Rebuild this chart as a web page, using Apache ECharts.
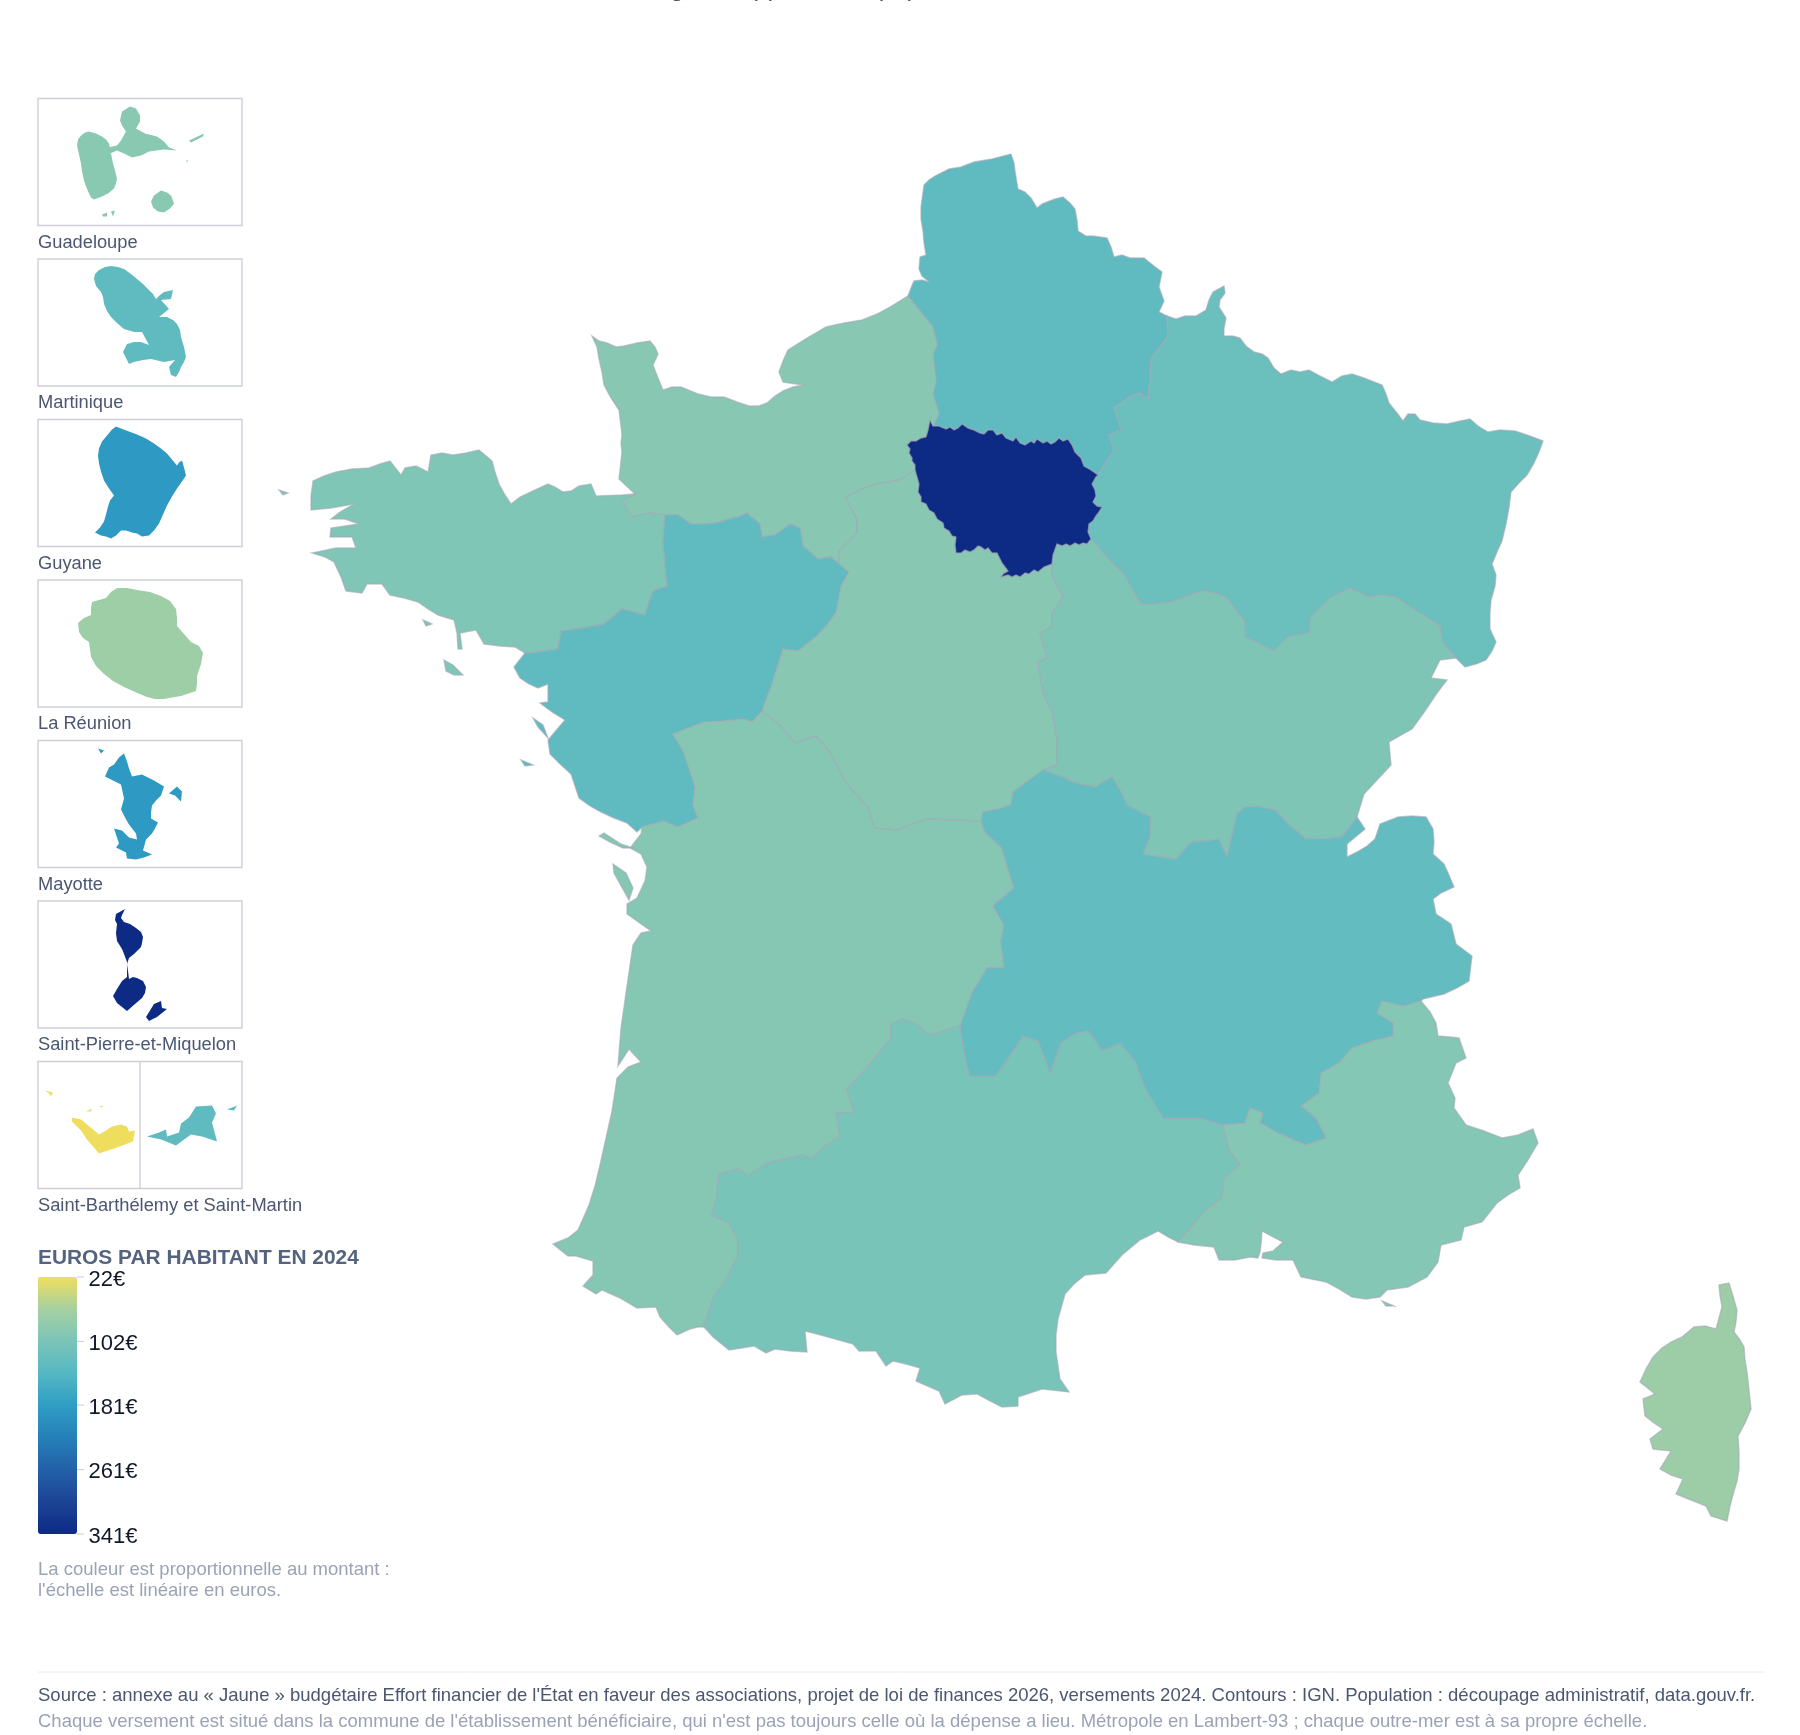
<!DOCTYPE html>
<html>
<head>
<meta charset="utf-8">
<title>Euros par habitant en 2024</title>
<script src="https://cdn.jsdelivr.net/npm/echarts@6/dist/echarts.min.js"></script>
<style>
html, body { margin: 0; padding: 0; background: #fff; }
#chart { width: 1800px; height: 1735px; }
</style>
</head>
<body>
<div id="chart"></div>
<script>
var regionNames = ['Hauts-de-France', 'Normandie', 'Île-de-France', 'Grand Est', 'Bretagne', 'Pays de la Loire', 'Centre-Val de Loire', 'Bourgogne-Franche-Comté', 'Nouvelle-Aquitaine', 'Occitanie', 'Auvergne-Rhône-Alpes', "Provence-Alpes-Côte d'Azur", 'Corse'];
var regionValues = [130, 89, 341, 118, 96, 130, 89, 97, 91, 103, 127, 93, 71];
var insetNames = ['Guadeloupe', 'Martinique', 'Guyane', 'La Réunion', 'Mayotte', 'Saint-Pierre-et-Miquelon', 'Saint-Barthélemy', 'Saint-Martin'];
var insetValues = [88, 130, 186, 69, 186, 341, 22, 130];
var insetLabels = ['Guadeloupe', 'Martinique', 'Guyane', 'La Réunion', 'Mayotte', 'Saint-Pierre-et-Miquelon', 'Saint-Barthélemy et Saint-Martin'];
var scaleTicks = [22, 102, 181, 261, 341];
var scaleColors = ['#EFDE5D', '#A6D0A2', '#7AC4B9', '#55B8C4', '#2F9DC4', '#2580B8', '#2360A8', '#1C4496', '#0D2A85'];

// contours de la metropole, par troncons communs
var coastHdf = [[908,296],[911,288],[914,281],[922,280],[929,282],[922,276],[919,269],[920,257],[926,255],[924,243],[923,231],[921,219],[921,207],[924,185],[929,180],[935,176],[949,169],[961,167],[974,162],[992,159],[1011,154],[1014,163],[1015,171],[1018,189],[1025,192],[1031,198],[1037,208],[1042,204],[1047,202],[1055,199],[1063,197],[1070,203],[1075,209],[1077,220],[1078,231],[1086,236],[1093,236],[1107,238],[1111,247],[1114,257],[1122,255],[1130,258],[1144,258],[1154,266],[1162,272],[1159,287],[1164,301],[1159,312],[1167,316]];
var hdfGrandEst = [[1167,316],[1168,336],[1160,347],[1151,359],[1150,380],[1148,399],[1140,393],[1132,395],[1114,408],[1118,420],[1121,430],[1109,435],[1114,450],[1106,462],[1098,475]];
var idfNordEst = [[1098,475],[1091,470],[1084,466],[1081,458],[1075,452],[1072,445],[1068,439],[1063,441],[1059,438],[1055,442],[1051,444],[1047,441],[1043,443],[1037,439],[1034,443],[1031,441],[1025,445],[1020,443],[1016,437],[1013,441],[1006,438],[1002,433],[997,435],[993,430],[988,430],[984,434],[980,433],[974,430],[968,428],[962,424],[958,428],[954,430],[950,427],[946,429],[939,426],[933,426]];
var hdfNormandie = [[908,296],[920,311],[933,327],[937,345],[933,354],[936,381],[933,394],[939,414],[933,426]];
var idfOuest = [[933,426],[930,420],[928,430],[926,437],[921,438],[916,441],[911,441],[907,445],[910,449],[909,453],[912,458],[912,461],[915,465],[915,470]];
var idfSudOuest = [[915,470],[917,477],[919,484],[918,492],[921,497],[921,502],[926,504],[929,510],[934,513],[937,519],[943,523],[944,528],[949,531],[952,536],[956,537],[955,545],[956,553],[961,553],[965,550],[970,552],[974,550],[978,546],[981,547],[985,550],[988,548],[992,553],[997,553],[1000,559],[1002,563],[1008,571],[1003,574],[1001,577],[1008,575],[1012,577],[1016,575],[1020,577],[1025,573],[1029,574],[1034,570],[1038,572],[1044,567],[1052,564]];
var idfSudEst = [[1052,564],[1053,555],[1057,544],[1062,546],[1066,544],[1070,546],[1075,543],[1079,545],[1083,543],[1087,544],[1091,539]];
var idfEst = [[1091,539],[1088,532],[1089,524],[1093,521],[1096,516],[1099,512],[1102,507],[1097,506],[1093,502],[1096,496],[1095,490],[1092,484],[1096,477],[1098,475]];
var normCentre = [[915,470],[900,480],[877,484],[862,489],[846,497],[851,508],[857,519],[857,533],[848,542],[839,551],[839,564]];
var normPdl = [[839,564],[831,557],[818,559],[810,552],[803,546],[800,528],[790,524],[775,535],[762,537],[760,524],[747,513],[738,517],[729,519],[716,523],[704,524],[691,524],[678,515],[665,515]];
var normBret = [[665,515],[650,513],[632,517],[622,501],[635,494]];
var coastNormandie = [[635,494],[619,479],[622,452],[621,443],[622,435],[619,410],[611,398],[604,385],[602,372],[599,359],[597,347],[592,336],[599,341],[607,343],[616,347],[624,346],[637,343],[650,341],[655,347],[658,354],[653,365],[658,378],[663,390],[672,387],[681,387],[698,394],[711,397],[724,397],[737,402],[749,406],[759,406],[767,403],[775,396],[783,391],[793,387],[803,385],[783,382],[779,372],[783,361],[788,350],[807,338],[826,327],[844,323],[862,320],[877,314],[890,307],[908,296]];
var coastBretagne = [[635,494],[622,495],[596,496],[591,484],[579,486],[571,491],[563,492],[555,487],[548,484],[535,490],[520,497],[511,504],[505,495],[499,484],[495,472],[492,461],[485,455],[479,450],[466,453],[453,455],[442,453],[431,455],[428,472],[416,466],[405,468],[401,475],[390,461],[380,464],[369,468],[352,469],[336,472],[324,476],[313,481],[311,496],[311,510],[331,508],[354,504],[340,512],[331,519],[345,519],[359,524],[345,526],[331,528],[330,537],[352,537],[356,548],[336,548],[322,551],[312,553],[325,557],[334,562],[341,577],[346,591],[362,593],[367,584],[382,584],[390,595],[404,598],[418,602],[428,609],[438,615],[454,620],[457,633],[458,649],[462,649],[460,633],[476,630],[484,644],[500,646],[515,647],[525,653]];
var bretPdl = [[525,653],[530,653],[558,649],[561,631],[582,628],[604,624],[622,609],[645,615],[649,602],[653,591],[667,586],[665,565],[663,542],[665,515]];
var coastPdl = [[525,653],[514,667],[520,678],[529,684],[538,688],[548,684],[548,702],[540,703],[552,712],[565,720],[548,740],[550,754],[560,764],[571,774],[575,786],[579,798],[590,806],[601,812],[614,818],[627,823],[637,832],[642,827]];
var pdlNa = [[642,827],[663,821],[678,827],[698,818],[693,805],[695,787],[688,765],[683,751],[673,734],[704,722],[724,721],[744,719],[752,722],[762,711]];
var pdlCentre = [[762,711],[772,684],[783,649],[798,651],[818,635],[827,625],[836,613],[841,586],[849,572],[839,564]];
var centreNa = [[762,711],[780,725],[795,743],[816,736],[829,751],[838,767],[846,783],[858,796],[869,809],[874,828],[897,830],[912,824],[928,819],[955,820],[981,821]];
var centreAra = [[981,821],[983,812],[998,809],[1011,805],[1013,792],[1028,781],[1043,770]];
var centreBfc = [[1052,564],[1052,575],[1063,597],[1052,613],[1052,627],[1040,633],[1047,658],[1038,662],[1043,693],[1052,711],[1057,738],[1057,765],[1043,770]];
var geBfc = [[1091,539],[1111,562],[1123,573],[1132,589],[1141,604],[1156,604],[1171,602],[1187,596],[1203,591],[1215,593],[1226,597],[1236,610],[1245,622],[1245,637],[1260,644],[1274,651],[1288,637],[1309,633],[1311,617],[1321,607],[1332,597],[1350,588],[1369,597],[1382,595],[1396,597],[1418,612],[1440,626],[1442,642],[1456,658]];
var coastGrandEst = [[1167,316],[1176,319],[1185,316],[1196,316],[1206,310],[1209,300],[1213,292],[1224,286],[1225,293],[1220,300],[1219,307],[1226,318],[1224,328],[1224,336],[1233,336],[1240,338],[1246,346],[1254,352],[1262,354],[1268,358],[1274,368],[1281,374],[1291,370],[1300,372],[1309,370],[1320,376],[1332,382],[1342,376],[1352,374],[1364,378],[1382,385],[1386,394],[1389,403],[1397,413],[1403,421],[1408,414],[1415,414],[1420,420],[1433,423],[1447,424],[1460,421],[1470,419],[1478,426],[1488,432],[1500,430],[1515,431],[1530,436],[1543,441],[1539,452],[1534,463],[1527,475],[1519,483],[1511,492],[1509,508],[1506,524],[1502,541],[1497,552],[1492,564],[1496,575],[1495,586],[1491,600],[1490,613],[1490,629],[1496,642],[1492,651],[1486,660],[1476,664],[1465,667],[1456,658]];
var swissBfc = [[1456,658],[1440,660],[1431,678],[1447,680],[1437,693],[1425,711],[1412,729],[1389,742],[1391,765],[1378,779],[1364,794],[1357,817]];
var araBfc = [[1357,817],[1342,837],[1326,839],[1306,839],[1288,824],[1275,810],[1260,807],[1245,807],[1237,814],[1227,857],[1219,839],[1205,841],[1191,842],[1176,859],[1160,857],[1143,854],[1150,837],[1150,817],[1127,805],[1120,790],[1112,777],[1095,787],[1075,783],[1060,776],[1043,770]];
var naAra = [[981,821],[985,832],[1002,848],[1008,869],[1014,888],[993,906],[1004,925],[1001,941],[1004,968],[987,968],[972,993],[966,1010],[960,1026]];
var naOcc = [[960,1026],[930,1035],[916,1024],[903,1019],[891,1024],[891,1039],[878,1054],[865,1070],[847,1089],[854,1113],[836,1113],[840,1136],[824,1147],[811,1159],[803,1155],[785,1159],[767,1163],[748,1176],[738,1169],[719,1174],[717,1194],[712,1215],[729,1223],[738,1240],[738,1256],[725,1281],[713,1298],[704,1327]];
var coastNa = [[704,1327],[698,1327],[690,1329],[677,1335],[668,1326],[660,1317],[656,1307],[637,1308],[620,1298],[602,1290],[596,1294],[583,1286],[593,1275],[593,1261],[576,1256],[568,1256],[553,1244],[568,1238],[578,1230],[589,1205],[595,1186],[600,1165],[606,1138],[612,1111],[617,1078],[628,1067],[641,1062],[629,1049],[618,1066],[621,1028],[627,986],[633,945],[641,933],[651,931],[627,914],[627,904],[637,898],[645,881],[647,867],[641,854],[630,848],[641,834],[642,827]];
var coastOcc = [[704,1327],[713,1337],[729,1350],[742,1348],[754,1346],[766,1353],[775,1349],[790,1351],[807,1352],[805,1331],[817,1334],[828,1337],[853,1344],[859,1351],[876,1351],[886,1366],[893,1361],[906,1364],[920,1368],[916,1381],[939,1391],[945,1404],[962,1395],[977,1394],[990,1401],[1002,1407],[1018,1406],[1018,1397],[1042,1389],[1069,1392],[1060,1379],[1056,1352],[1056,1335],[1058,1319],[1065,1294],[1074,1284],[1085,1275],[1106,1273],[1114,1264],[1122,1255],[1140,1240],[1158,1231],[1168,1237],[1178,1242]];
var occPaca = [[1178,1242],[1204,1212],[1222,1198],[1224,1178],[1240,1165],[1229,1150],[1223,1125]];
var araOcc = [[1223,1125],[1201,1118],[1186,1118],[1163,1118],[1154,1103],[1145,1088],[1135,1061],[1120,1043],[1102,1051],[1089,1031],[1076,1033],[1061,1043],[1050,1073],[1044,1056],[1038,1041],[1023,1036],[1011,1054],[1000,1070],[995,1076],[970,1076],[966,1062],[960,1026]];
var araPaca = [[1223,1125],[1245,1123],[1250,1108],[1263,1113],[1260,1123],[1278,1133],[1306,1145],[1326,1138],[1316,1118],[1301,1106],[1319,1093],[1321,1073],[1339,1063],[1352,1048],[1372,1041],[1393,1036],[1393,1023],[1377,1013],[1382,1001],[1403,1006],[1421,1001]];
var coastAra = [[1421,1001],[1423,999],[1444,994],[1457,988],[1469,981],[1472,956],[1456,944],[1451,924],[1436,914],[1433,899],[1441,893],[1454,887],[1449,875],[1444,864],[1433,854],[1434,842],[1433,829],[1426,817],[1412,816],[1398,817],[1380,824],[1375,839],[1367,846],[1357,852],[1347,857],[1347,844],[1365,829],[1357,817]];
var coastPaca = [[1421,1001],[1430,1012],[1436,1023],[1438,1036],[1450,1037],[1459,1038],[1466,1058],[1456,1063],[1448,1083],[1455,1098],[1454,1108],[1466,1125],[1484,1131],[1502,1138],[1518,1135],[1533,1129],[1538,1143],[1528,1160],[1518,1175],[1520,1188],[1508,1195],[1497,1203],[1482,1222],[1464,1227],[1461,1240],[1441,1245],[1438,1262],[1427,1277],[1408,1287],[1387,1290],[1380,1297],[1366,1299],[1352,1297],[1339,1289],[1326,1282],[1301,1277],[1293,1260],[1276,1260],[1262,1258],[1263,1253],[1273,1251],[1283,1242],[1273,1237],[1262,1231],[1261,1245],[1260,1252],[1258,1258],[1250,1257],[1235,1260],[1219,1260],[1214,1247],[1194,1245],[1178,1242]];
var corse = [[1719,1285],[1729,1283],[1733,1296],[1737,1310],[1736,1322],[1734,1332],[1740,1340],[1744,1347],[1745,1360],[1747,1372],[1749,1390],[1751,1409],[1745,1423],[1738,1436],[1739,1452],[1739,1469],[1737,1481],[1734,1491],[1730,1506],[1727,1521],[1711,1516],[1706,1506],[1691,1500],[1676,1494],[1683,1479],[1671,1475],[1660,1469],[1671,1451],[1653,1449],[1650,1439],[1663,1429],[1654,1423],[1645,1416],[1643,1399],[1655,1394],[1640,1382],[1646,1369],[1653,1357],[1662,1348],[1671,1342],[1682,1337],[1694,1327],[1705,1326],[1716,1329],[1719,1318],[1722,1307],[1720,1296]];
// iles
var ouessant = [[279,490],[288,493],[283,495]];
var groix = [[423,620],[432,624],[426,626]];
var belleIle = [[444,660],[453,665],[463,675],[454,675],[446,671]];
var noirmoutier = [[533,718],[543,725],[548,738],[538,727]];
var yeu = [[521,760],[533,765],[525,766]];
var re = [[599,836],[604,833],[621,844],[633,848],[623,848],[610,842]];
var oleron = [[613,864],[626,873],[633,888],[629,900],[620,884],[614,873]];
var hyeres = [[1382,1301],[1394,1306],[1386,1306]];

// contours des outre-mer, chacun dans son cadre
var basseTerre = [[39,47],[40,41],[43,37],[47,34],[51,33],[58,35],[64,38],[68,41],[71,45],[72,50],[73,55],[74,60],[75,65],[77,72],[79,80],[78,85],[76,90],[70,95],[64,98],[56,101],[53,99],[51,95],[48,88],[46,82],[44,73],[43,65],[41,56]];
var grandeTerre = [[70,49],[79,47],[83,42],[88,33],[84,27],[82,22],[84,13],[92,8],[98,10],[102,17],[102,23],[98,30],[107,35],[119,38],[126,43],[131,49],[139,52],[126,51],[111,53],[103,57],[94,59],[86,55],[79,52],[72,55]];
var desirade = [[151,42],[166,35],[165,38],[153,44]];
var marieGalante = [[113,103],[116,97],[123,92],[129,94],[133,97],[136,105],[132,110],[126,114],[120,113],[115,109]];
var saintes = [[64,116],[69,114],[69,118],[65,118]];
var saintes2 = [[73,113],[77,112],[75,118]];
var petiteTerre = [[148,62],[150,62],[149,64]];
var martinique = [[56,20],[57,15],[61,11],[67,8],[73,7],[80,8],[86,10],[93,15],[99,20],[105,25],[111,31],[115,35],[118,40],[122,36],[126,33],[135,31],[133,40],[123,41],[131,50],[121,58],[129,58],[135,61],[139,65],[142,71],[143,78],[146,88],[148,98],[146,103],[143,108],[141,113],[138,118],[133,116],[131,108],[137,101],[126,103],[113,100],[105,101],[96,103],[91,105],[85,93],[89,85],[96,83],[103,83],[111,86],[104,73],[96,73],[86,70],[79,64],[73,58],[69,52],[66,45],[65,38],[63,33],[58,27]];
var guyane = [[78,7],[83,9],[91,12],[99,15],[108,19],[116,24],[123,29],[129,34],[134,40],[139,46],[141,43],[144,41],[146,48],[148,56],[144,62],[139,69],[134,77],[129,86],[125,95],[121,104],[116,111],[111,116],[104,117],[99,114],[94,113],[88,111],[83,111],[78,116],[73,119],[68,117],[63,116],[57,113],[62,108],[66,102],[68,95],[70,87],[72,81],[76,76],[71,69],[66,61],[63,52],[61,44],[60,36],[61,29],[64,22],[69,16],[74,10]];
var reunion = [[40,43],[46,38],[53,35],[53,28],[54,22],[61,20],[68,18],[73,12],[79,8],[89,8],[99,10],[112,12],[123,16],[132,21],[138,29],[139,38],[139,46],[146,54],[153,62],[161,66],[165,73],[163,84],[159,96],[159,104],[158,111],[143,116],[126,119],[117,119],[109,117],[97,112],[86,107],[75,101],[66,94],[58,86],[53,77],[52,69],[51,62],[45,58],[41,52]];
var grandeTerreMayotte = [[67,36],[71,27],[76,24],[81,17],[86,13],[89,21],[91,28],[94,36],[104,34],[110,37],[116,40],[126,46],[123,55],[118,60],[114,65],[113,72],[113,78],[120,82],[117,88],[114,93],[108,99],[105,110],[114,114],[106,117],[98,119],[89,118],[88,112],[78,107],[81,103],[76,88],[84,90],[91,97],[99,99],[98,93],[91,84],[87,77],[83,69],[86,58],[83,44],[71,38]];
var petiteTerreMayotte = [[131,53],[139,46],[144,51],[143,61],[137,55]];
var ilotMayotte = [[60,8],[66,10],[63,13]];
var miquelon = [[78,13],[87,8],[84,14],[83,17],[86,21],[92,23],[98,27],[103,31],[105,36],[104,42],[103,46],[96,53],[91,57],[89,63],[90,70],[91,78],[95,76],[99,77],[105,80],[108,86],[107,92],[104,97],[97,103],[89,110],[84,106],[79,102],[75,95],[79,88],[84,80],[89,76],[89,68],[89,61],[86,53],[84,48],[79,40],[78,32],[79,23],[77,19]];
var saintPierre = [[108,116],[116,103],[123,100],[124,107],[129,108],[119,116],[111,120]];
var saintBarth = [[34,56],[43,58],[54,67],[61,73],[68,69],[74,65],[83,63],[89,65],[91,70],[97,69],[95,80],[79,86],[70,89],[61,92],[55,85],[49,78],[43,69],[34,60]];
var barthIlot1 = [[7,29],[15,31],[13,35],[11,32]];
var barthIlot2 = [[48,50],[54,47],[53,50]];
var barthIlot3 = [[61,45],[65,44],[64,46]];
var saintMartin = [[109,75],[121,71],[128,68],[129,75],[141,71],[143,62],[151,56],[158,45],[174,44],[178,52],[174,61],[179,80],[164,75],[153,73],[138,84],[123,78]];
var tintamarre = [[189,48],[199,44],[196,49]];

function rev(a) { return a.slice().reverse(); }
function ring() {
    var out = [];
    for (var i = 0; i < arguments.length; i++) {
        out = out.concat(out.length ? arguments[i].slice(1) : arguments[i]);
    }
    return out;
}
// y vers le haut dans le geojson
function flip(r) {
    return r.map(function (p) { return [p[0], -p[1]]; });
}
function feature(name, polys) {
    return {
        type: 'Feature',
        properties: { name: name },
        geometry: {
            type: 'MultiPolygon',
            coordinates: polys.map(function (poly) { return poly.map(flip); })
        }
    };
}
function collection(features) {
    return { type: 'FeatureCollection', features: features };
}

echarts.registerMap('metropole', collection([
    feature('Hauts-de-France', [[ring(coastHdf, hdfGrandEst, idfNordEst, rev(hdfNormandie))]]),
    feature('Normandie', [[ring(coastNormandie, hdfNormandie, idfOuest, normCentre, normPdl, normBret)]]),
    feature('Grand Est', [[ring(coastGrandEst, rev(geBfc), idfEst, rev(hdfGrandEst))]]),
    feature('Bretagne', [[ring(coastBretagne, bretPdl, normBret)], [ouessant], [groix], [belleIle]]),
    feature('Pays de la Loire', [[ring(coastPdl, pdlNa, pdlCentre, normPdl, rev(bretPdl))], [noirmoutier], [yeu]]),
    feature('Centre-Val de Loire', [[ring(rev(pdlCentre), centreNa, centreAra, rev(centreBfc), rev(idfSudOuest), normCentre)]]),
    feature('Bourgogne-Franche-Comté', [[ring(idfSudEst, geBfc, swissBfc, araBfc, rev(centreBfc))]]),
    feature('Nouvelle-Aquitaine', [[ring(coastNa, pdlNa, centreNa, naAra, naOcc)], [re], [oleron]]),
    feature('Occitanie', [[ring(coastOcc, occPaca, araOcc, naOcc)]]),
    feature('Auvergne-Rhône-Alpes', [[ring(rev(centreAra), naAra, rev(araOcc), araPaca, coastAra, araBfc)]]),
    feature("Provence-Alpes-Côte d'Azur", [[ring(araPaca, coastPaca, occPaca)], [hyeres]]),
    feature('Corse', [[corse]]),
    feature('Île-de-France', [[ring(idfNordEst, idfOuest, idfSudOuest, idfSudEst, idfEst)]])
]));
echarts.registerMap('guadeloupe', collection([feature('Guadeloupe', [[basseTerre], [grandeTerre], [desirade], [marieGalante], [saintes], [saintes2], [petiteTerre]])]));
echarts.registerMap('martinique', collection([feature('Martinique', [[martinique]])]));
echarts.registerMap('guyane', collection([feature('Guyane', [[guyane]])]));
echarts.registerMap('reunion', collection([feature('La Réunion', [[reunion]])]));
echarts.registerMap('mayotte', collection([feature('Mayotte', [[grandeTerreMayotte], [petiteTerreMayotte], [ilotMayotte]])]));
echarts.registerMap('spm', collection([feature('Saint-Pierre-et-Miquelon', [[miquelon], [saintPierre]])]));
echarts.registerMap('stbarth', collection([
    feature('Saint-Barthélemy', [[saintBarth], [barthIlot1], [barthIlot2], [barthIlot3]]),
    feature('Saint-Martin', [[saintMartin], [tintamarre]])
]));

function mapData(names, values) {
    return names.map(function (n, i) { return { name: n, value: values[i] }; });
}
var insetData = mapData(insetNames, insetValues);
var insetMaps = ['guadeloupe', 'martinique', 'guyane', 'reunion', 'mayotte', 'spm', 'stbarth'];
var FRAME_LEFT = 38, FRAME_W = 204, FRAME_H = 127, FRAME_TOP = 98.5, FRAME_STEP = 160.5;

function mapSeries(map, data, left, top, w, h) {
    return {
        type: 'map',
        map: map,
        data: data,
        left: left,
        top: top,
        width: w,
        height: h,
        aspectScale: 1,
        boundingCoords: [[0, 0], [w, -h]],
        roam: false,
        silent: true,
        selectedMode: false,
        label: { show: false },
        emphasis: { disabled: true },
        itemStyle: { borderColor: 'rgba(160,168,182,0.6)', borderWidth: 1.4 }
    };
}

var series = [mapSeries('metropole', mapData(regionNames, regionValues), 0, 0, 1800, 1735)];
var graphics = [];
var TEXT = '#4b5670', MUTED = '#9aa3b6', FONT = '"Liberation Sans", Arial, sans-serif';

function addText(text, x, y, size, color, extra) {
    var st = { text: text, x: x, y: y, fill: color, font: (extra || '') + ' ' + size + 'px ' + FONT, textVerticalAlign: 'middle' };
    graphics.push({ type: 'text', silent: true, style: st });
}

// titre coupe par le haut de la page, seuls les jambages depassent
addText('région, rapporté à la population', 648, -11, 25, TEXT);

insetMaps.forEach(function (m, i) {
    var top = FRAME_TOP + i * FRAME_STEP;
    var s = mapSeries(m, m === 'stbarth' ? insetData.slice(6) : [insetData[i]], FRAME_LEFT, top, FRAME_W, FRAME_H);
    s.itemStyle = { borderWidth: 0 };
    series.push(s);
    graphics.push({
        type: 'rect', silent: true,
        shape: { x: FRAME_LEFT, y: top, width: FRAME_W, height: FRAME_H },
        style: { fill: 'none', stroke: '#cdd0da', lineWidth: 1.4 }
    });
    addText(insetLabels[i], FRAME_LEFT, top + FRAME_H + 17, 18.3, TEXT);
});
var lastTop = FRAME_TOP + 6 * FRAME_STEP;
graphics.push({
    type: 'line', silent: true,
    shape: { x1: 140, y1: lastTop, x2: 140, y2: lastTop + FRAME_H },
    style: { stroke: '#cdd0da', lineWidth: 1.4 }
});

addText('EUROS PAR HABITANT EN 2024', 38, 1258, 20.9, '#56637f', '600');
addText('La couleur est proportionnelle au montant :', 38, 1570, 18.5, MUTED);
addText("l'échelle est linéaire en euros.", 38, 1591, 18.5, MUTED);
graphics.push({
    type: 'line', silent: true,
    shape: { x1: 38, y1: 1672, x2: 1765, y2: 1672 },
    style: { stroke: '#e8eaee', lineWidth: 1 }
});
addText("Source : annexe au « Jaune » budgétaire Effort financier de l'État en faveur des associations, projet de loi de finances 2026, versements 2024. Contours : IGN. Population : découpage administratif, data.gouv.fr.", 38, 1696, 18.5, TEXT);
addText("Chaque versement est situé dans la commune de l'établissement bénéficiaire, qui n'est pas toujours celle où la dépense a lieu. Métropole en Lambert-93 ; chaque outre-mer est à sa propre échelle.", 38, 1722, 18.5, MUTED);

var option = {
    animation: false,
    backgroundColor: '#fff',
    grid: { left: 38, top: 1277, width: 39, height: 257 },
    xAxis: { type: 'value', show: false },
    yAxis: { type: 'value', show: false, inverse: true, min: 22, max: 341 },
    visualMap: {
        type: 'continuous',
        min: 22,
        max: 341,
        left: 38,
        top: 1277,
        padding: 0,
        itemWidth: 39,
        itemHeight: 257,
        inverse: true,
        calculable: false,
        showLabel: false,
        text: null,
        seriesIndex: series.map(function (s, i) { return i; }),
        inRange: { color: scaleColors }
    },
    series: series,
    graphic: { elements: graphics }
};

var chart = echarts.init(document.getElementById('chart'));
chart.setOption(option);

// graduations de la legende, placees par l'echelle de l'axe
scaleTicks.forEach(function (v) {
    var y = chart.convertToPixel({ yAxisIndex: 0 }, v);
    graphics.push({
        type: 'line', silent: true,
        shape: { x1: 77, y1: y, x2: 84, y2: y },
        style: { stroke: '#cfd3db', lineWidth: 1.2 }
    });
    addText(v + '€', 88.5, y + 2.5, 22, '#111827');
});
chart.setOption({ graphic: { elements: graphics } });
</script>
</body>
</html>
